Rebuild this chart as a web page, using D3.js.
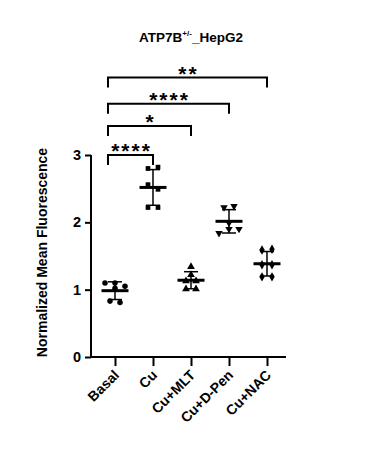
<!DOCTYPE html>
<html><head><meta charset="utf-8">
<script src="https://cdn.jsdelivr.net/npm/d3@7"></script>
<style>body{margin:0;background:#fff}svg{display:block;font-family:"Liberation Sans",Arial,sans-serif}</style>
</head><body><svg id="c" width="377" height="464"></svg>
<script>
const categories = ["Basal","Cu","Cu+MLT","Cu+D-Pen","Cu+NAC"];
const basal   = [1.10, 1.10, 1.05, 1.02, 0.83, 0.81];
const cu      = [2.80, 2.82, 2.56, 2.49, 2.22, 2.22];
const cuMLT   = [1.34, 1.22, 1.13, 1.13, 1.01, 1.01];
const cuDPen  = [2.22, 2.24, 1.99, 1.84, 1.90, 1.90];
const cuNAC   = [1.59, 1.60, 1.37, 1.37, 1.19, 1.19];
const yTicks  = [0, 1, 2, 3];
const comparisons = [
  {from:"Basal", to:"Cu",       level:3.00, label:"****"},
  {from:"Basal", to:"Cu+MLT",   level:3.43, label:"*"},
  {from:"Basal", to:"Cu+D-Pen", level:3.76, label:"****"},
  {from:"Basal", to:"Cu+NAC",   level:4.15, label:"**"}
];
const seriesValues = [basal, cu, cuMLT, cuDPen, cuNAC];
const symbols = [d3.symbolCircle, d3.symbolSquare, d3.symbolTriangle, "down", d3.symbolDiamond];

const svg = d3.select("#c");
const x = d3.scalePoint().domain(categories).range([115, 267]);
const y = d3.scaleLinear().domain([0, 3]).range([357, 155]);
const axisLeftX = 91, axisRightX = 286;

// title
const t = svg.append("text").attr("x", 191).attr("y", 42).attr("text-anchor","middle")
  .attr("font-size", 13.5).attr("font-weight","bold").attr("fill","#000");
t.append("tspan").text("ATP7B");
t.append("tspan").attr("font-size", 8).attr("dy", -6).text("+/-");
t.append("tspan").attr("dy", 6).text("_HepG2");

// y axis
const gy = svg.append("g").attr("transform", `translate(${axisLeftX},0)`)
  .call(d3.axisLeft(y).tickValues(yTicks).tickFormat(d3.format("d")).tickSize(6).tickPadding(4));
gy.select(".domain").attr("stroke-width", 2).attr("d", `M0,${y(3)}V${y(0)+1}`);
gy.selectAll(".tick line").attr("stroke-width", 2);
gy.selectAll(".tick text").attr("font-size", 14.5).attr("font-weight","bold").attr("fill","#000")
  .attr("font-family", '"Liberation Sans",Arial,sans-serif');

// x axis
const gx = svg.append("g").attr("transform", `translate(0,${y(0)})`)
  .call(d3.axisBottom(x).tickSize(9).tickSizeOuter(0).tickFormat(""));
gx.select(".domain").remove();
gx.append("line").attr("x1", axisLeftX-1).attr("x2", axisRightX).attr("stroke","#000").attr("stroke-width",2);
gx.selectAll(".tick line").attr("stroke-width", 2);
svg.append("g").selectAll("text").data(categories).join("text")
  .attr("transform", d => `translate(${x(d)+5},${y(0)+19}) rotate(-45)`)
  .attr("text-anchor","end").attr("font-size", 14).attr("font-weight","bold").attr("fill","#000")
  .text(d => d);

// y title
svg.append("text").attr("transform", `translate(47,${(y(0)+148)/2}) rotate(-90)`)
  .attr("text-anchor","middle").attr("font-size", 14).attr("font-weight","bold").attr("fill","#000")
  .text("Normalized Mean Fluorescence");

// beeswarm-like row layout
function layout(vals) {
  const idx = vals.map((v,i)=>i).sort((a,b)=>vals[b]-vals[a]);
  const rows = [];
  idx.forEach(i => {
    const last = rows[rows.length-1];
    if (last && Math.abs(y(vals[i]) - y(vals[last[0]])) < 5) last.push(i); else rows.push([i]);
  });
  const off = new Array(vals.length).fill(0);
  rows.forEach(r => { r.sort((a,b)=>a-b); r.forEach((i,k)=>{ off[i] = (k - (r.length-1)/2) * 10; }); });
  return off;
}

seriesValues.forEach((vals, gi) => {
  const cx = x(categories[gi]);
  const off = layout(vals);
  const sym = symbols[gi];
  const g = svg.append("g");
  g.selectAll("path").data(vals).join("path")
    .attr("d", sym === "down" ? d3.symbol(d3.symbolTriangle, 24)() : d3.symbol(sym, gi===0 ? 24 : gi===1 ? 22 : 26)())
    .attr("transform", (d,i) => `translate(${cx+off[i]},${y(d)})` + (sym === "down" ? " rotate(180)" : ""))
    .attr("fill","#000");
  const m = d3.mean(vals), sd = d3.deviation(vals);
  g.append("line").attr("x1",cx).attr("x2",cx).attr("y1",y(m+sd)).attr("y2",y(m-sd)).attr("stroke","#000").attr("stroke-width",1.5);
  [m+sd, m-sd].forEach(v => g.append("line").attr("x1",cx-7).attr("x2",cx+7).attr("y1",y(v)).attr("y2",y(v)).attr("stroke","#000").attr("stroke-width",1.5));
  g.append("line").attr("x1",cx-13.5).attr("x2",cx+13.5).attr("y1",y(m)).attr("y2",y(m)).attr("stroke","#000").attr("stroke-width",3);
});

// significance brackets
const br = svg.append("g");
comparisons.forEach(c => {
  const x1 = x(c.from) - 7, x2 = x(c.to), yy = y(c.level);
  br.append("path").attr("d", `M${x1},${yy+10}V${yy}H${x2}V${yy+10}`)
    .attr("fill","none").attr("stroke","#000").attr("stroke-width",2);
  br.append("text").attr("x",(x1+x2)/2 + 1).attr("y", yy+3).attr("text-anchor","middle")
    .attr("font-size",21).attr("font-weight","bold").attr("letter-spacing",2).attr("fill","#000")
    .text(c.label);
});
</script></body></html>
